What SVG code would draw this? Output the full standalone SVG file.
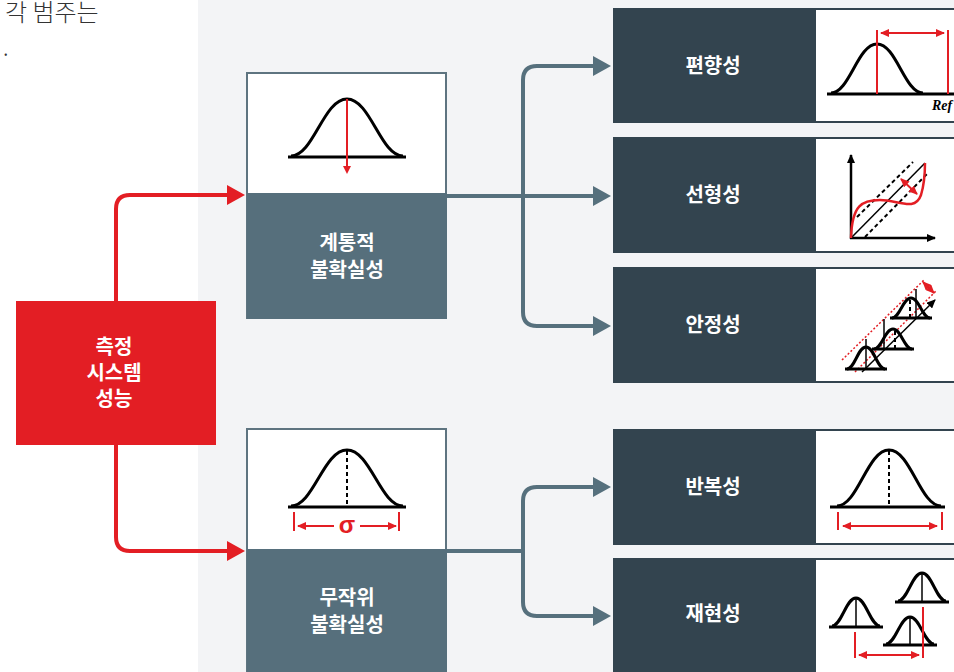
<svg xmlns="http://www.w3.org/2000/svg" width="954" height="672" viewBox="0 0 954 672">
<defs>
<style>
.lbl{font-family:"Noto Sans CJK KR","Noto Sans",sans-serif;font-weight:700;font-size:20px;fill:#ffffff;text-anchor:middle}
.bell{fill:none;stroke:#000;stroke-width:3}
.base{stroke:#000;stroke-width:3}
.thin{stroke:#000;stroke-width:1.5}
.dash{stroke:#000;stroke-width:2;stroke-dasharray:4 3}
.red{stroke:#e31e24;stroke-width:2;fill:none}
.rdot{stroke:#e31e24;stroke-width:1.5;stroke-dasharray:2 2;fill:none}
.dark{fill:#33444f}
.panel{fill:#fff;stroke:#33444f;stroke-width:2}
.conn{fill:none;stroke:#56707d;stroke-width:4}
.rconn{fill:none;stroke:#e31e24;stroke-width:4}
</style>
<marker id="ga" markerUnits="userSpaceOnUse" markerWidth="18" markerHeight="20" refX="1" refY="10" orient="auto-start-reverse"><path d="M0,0 L18,10 L0,20 z" fill="#56707d"/></marker>
<marker id="ra" markerUnits="userSpaceOnUse" markerWidth="18" markerHeight="20" refX="1" refY="10" orient="auto-start-reverse"><path d="M0,0 L18,10 L0,20 z" fill="#e31e24"/></marker>
<marker id="rs" markerUnits="userSpaceOnUse" markerWidth="9" markerHeight="8" refX="8" refY="4" orient="auto-start-reverse"><path d="M0,0 L9,4 L0,8 z" fill="#e31e24"/></marker>
<marker id="bs" markerUnits="userSpaceOnUse" markerWidth="9" markerHeight="8" refX="8" refY="4" orient="auto-start-reverse"><path d="M0,0 L9,4 L0,8 z" fill="#000"/></marker>
</defs>
<rect x="0" y="0" width="954" height="672" fill="#ffffff"/>
<rect x="198" y="0" width="756" height="672" fill="#f3f4f6"/>
<text x="5" y="21" font-family="Noto Sans CJK KR,Noto Sans,sans-serif" font-size="24" font-weight="300" fill="#333">각 범주는</text>
<text x="3" y="56" font-family="Noto Sans CJK KR,Noto Sans,sans-serif" font-size="22" font-weight="300" fill="#333">.</text>

<g id="connectors">
<path class="rconn" d="M116,301 V209 Q116,195 130,195 H228" marker-end="url(#ra)"/>
<path class="rconn" d="M116,445 V537 Q116,551 130,551 H228" marker-end="url(#ra)"/>
<path class="conn" d="M447,196 H594" marker-end="url(#ga)"/>
<path class="conn" d="M594,66 H537 Q523,66 523,80 V312 Q523,326 537,326 H594" marker-start="url(#ga)" marker-end="url(#ga)"/>
<path class="conn" d="M447,551 H523"/>
<path class="conn" d="M594,487 H537 Q523,487 523,501 V602 Q523,616 537,616 H594" marker-start="url(#ga)" marker-end="url(#ga)"/>
</g>

<g id="node-performance">
<rect x="16" y="301" width="200" height="144" fill="#e31e24"/>
<text class="lbl" x="114" y="354">측정</text>
<text class="lbl" x="114" y="380">시스템</text>
<text class="lbl" x="114" y="406">성능</text>
</g>

<g id="node-systematic">
<rect x="247" y="73" width="199" height="245" fill="#fff" stroke="#5e7480" stroke-width="2"/>
<rect x="247" y="193" width="200" height="126" fill="#566f7c"/>
<path class="bell" d="M291,156 C313.4,156 323.5,99 347,99 C370.5,99 380.6,156 403,156"/>
<path class="base" d="M288,157 H406"/>
<path class="red" d="M347,99 V167"/>
<path d="M343,166 L351,166 L347,174 z" fill="#e31e24"/>
<text class="lbl" x="347" y="250">계통적</text>
<text class="lbl" x="347" y="277">불확실성</text>
</g>

<g id="node-random">
<rect x="247" y="429" width="199" height="250" fill="#fff" stroke="#5e7480" stroke-width="2"/>
<rect x="247" y="549" width="200" height="130" fill="#566f7c"/>
<path class="bell" d="M291,506 C313.4,506 323.5,450 347,450 C370.5,450 380.6,506 403,506"/>
<path class="base" d="M288,507 H406"/>
<path class="dash" d="M347,451 V506"/>
<path class="red" d="M294,512 V531 M399,512 V531"/>
<path class="red" d="M298,526 H334" marker-start="url(#rs)"/>
<path class="red" d="M360,526 H396" marker-end="url(#rs)"/>
<text x="347" y="533" text-anchor="middle" font-family="Liberation Sans,Arial,sans-serif" font-weight="700" font-size="24" fill="#e31e24">σ</text>
<text class="lbl" x="347" y="605">무작위</text>
<text class="lbl" x="347" y="632">불확실성</text>
</g>

<g id="node-bias">
<rect class="dark" x="613" y="8" width="202" height="115"/>
<rect class="panel" x="815" y="9" width="145" height="113"/>
<text class="lbl" x="713" y="73">편향성</text>
<path class="bell" d="M831,93 C849.4,93 857.7,44 877,44 C896.3,44 904.6,93 923,93"/>
<path class="base" d="M827,94 H954"/>
<path class="red" d="M877,30 V94 M948,30 V94"/>
<path class="red" d="M881,33 H944" marker-start="url(#rs)" marker-end="url(#rs)"/>
<text x="932" y="110" font-family="Liberation Serif,serif" font-style="italic" font-weight="700" font-size="14" fill="#000">Ref</text>
</g>

<g id="node-linearity">
<rect class="dark" x="613" y="137" width="202" height="116"/>
<rect class="panel" x="815" y="138" width="145" height="114"/>
<text class="lbl" x="713" y="202">선형성</text>
<path d="M851,239 V155" stroke="#000" stroke-width="2.5" marker-end="url(#bs)"/>
<path d="M850,238 H935" stroke="#000" stroke-width="2.5" marker-end="url(#bs)"/>
<path class="thin" d="M851,238 L925,163"/>
<path class="dash" d="M857,217 L913,162 M865,237 L928,173"/>
<path d="M851,238 C852,205 862,200 880,200 C898,200 915,212 921,195 C924,185 925,175 925,163" fill="none" stroke="#e31e24" stroke-width="2.5"/>
<path class="red" d="M901,179 L917,194" stroke-width="2" marker-start="url(#rs)" marker-end="url(#rs)"/>
</g>

<g id="node-stability">
<rect class="dark" x="613" y="267" width="202" height="116"/>
<rect class="panel" x="815" y="268" width="145" height="114"/>
<text class="lbl" x="713" y="332">안정성</text>
<path class="rdot" d="M842,360 L925,279 M855,372 L937,290"/>
<path class="thin" d="M862,372 L935,300" marker-end="url(#bs)"/>
<path class="red" d="M923,282 L934,293" stroke-width="2.5" marker-start="url(#rs)" marker-end="url(#rs)"/>
<path class="bell" d="M847,369 C854.6,369 858,347 866,347 C874,347 877.4,369 885,369"/>
<path class="base" d="M845,369 H887"/>
<path class="thin" d="M866,339 V369"/>
<path class="bell" d="M874,349 C881.6,349 885,329 893,329 C901,329 904.4,349 912,349"/>
<path class="base" d="M872,349 H914"/>
<path class="thin" d="M884,319 V349"/>
<path class="dash" d="M895,331 V349" stroke-dasharray="3 2"/>
<path class="bell" d="M892,318 C899.6,318 903,298 911,298 C919,298 922.4,318 930,318"/>
<path class="base" d="M890,318 H932"/>
<path class="thin" d="M916,289 V318"/>
<path class="dash" d="M910,300 V318" stroke-dasharray="3 2"/>
</g>

<g id="node-repeatability">
<rect class="dark" x="613" y="429" width="202" height="116"/>
<rect class="panel" x="815" y="430" width="145" height="114"/>
<text class="lbl" x="713" y="494">반복성</text>
<path class="bell" d="M837,506 C857.8,506 867.2,450 889,450 C910.8,450 920.2,506 941,506"/>
<path class="base" d="M830,507 H945"/>
<path class="dash" d="M889,451 V506"/>
<path class="red" d="M838,512 V530 M942,512 V530"/>
<path class="red" d="M843,526 H937" marker-start="url(#rs)" marker-end="url(#rs)"/>
</g>

<g id="node-reproducibility">
<rect class="dark" x="613" y="558" width="202" height="120"/>
<rect class="panel" x="815" y="559" width="145" height="120"/>
<text class="lbl" x="713" y="621">재현성</text>
<path class="bell" d="M832,626 C841.6,626 845.9,598 856,598 C866.1,598 870.4,626 880,626"/>
<path class="base" d="M829,627 H883"/>
<path class="thin" d="M856,599 V626"/>
<path class="bell" d="M898,601 C907.6,601 911.9,573 922,573 C932.1,573 936.4,601 946,601"/>
<path class="base" d="M895,602 H949"/>
<path class="thin" d="M922,574 V601"/>
<path class="bell" d="M886,644 C895.6,644 899.9,617 910,617 C920.1,617 924.4,644 934,644"/>
<path class="base" d="M883,645 H937"/>
<path class="thin" d="M910,618 V644"/>
<path class="red" d="M855,632 V658 M923,607 V658"/>
<path class="red" d="M859,655 H919" marker-start="url(#rs)" marker-end="url(#rs)"/>
</g>
</svg>
